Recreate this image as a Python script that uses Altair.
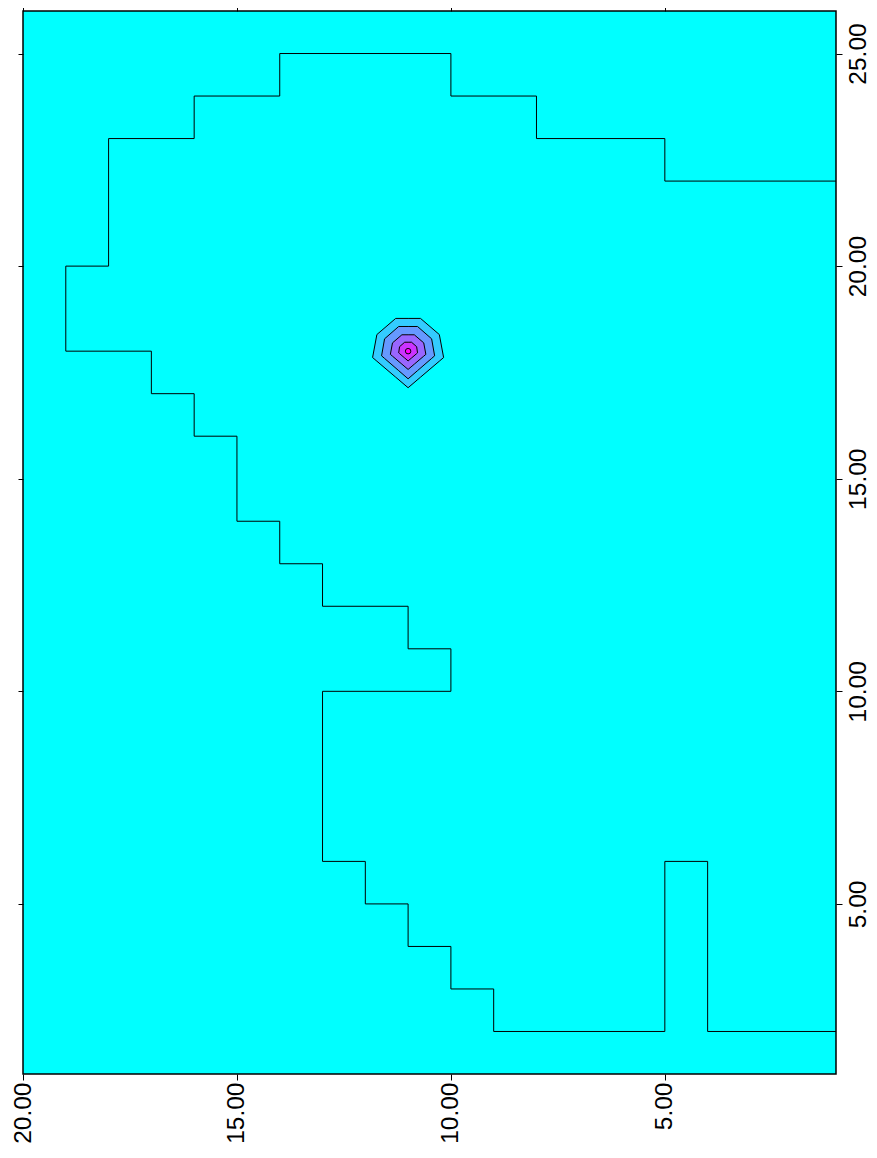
import altair as alt
import pandas as pd

# Stepped contour line (grid units: u = horizontal axis 20..1, v = vertical axis 1..26)
stair_u = [1, 5, 5, 8, 8, 10, 10, 14, 14, 16, 16, 18, 18, 19, 19, 17, 17, 16, 16, 15, 15,
           14, 14, 13, 13, 11, 11, 10, 10, 13, 13, 12, 12, 11, 11, 10, 10, 9, 9, 5, 5, 4, 4, 1]
stair_v = [22, 22, 23, 23, 24, 24, 25, 25, 24, 24, 23, 23, 20, 20, 18, 18, 17, 17, 16, 16, 14,
           14, 13, 13, 12, 12, 11, 11, 10, 10, 6, 6, 5, 5, 4, 4, 3, 3, 2, 2, 6, 6, 2, 2]

# Nested contour polygons around the peak at (11, 18)
poly1_u = [11.29, 10.71, 10.27, 10.17, 11.00, 11.83, 11.73]
poly1_v = [18.77, 18.77, 18.39, 17.85, 17.14, 17.85, 18.39]
poly2_u = [11.22, 10.78, 10.45, 10.38, 11.00, 11.62, 11.55]
poly2_v = [18.58, 18.58, 18.29, 17.89, 17.35, 17.89, 18.29]
poly3_u = [11.145, 10.855, 10.635, 10.585, 11.00, 11.415, 11.365]
poly3_v = [18.385, 18.385, 18.195, 17.925, 17.57, 17.925, 18.195]
poly4_u = [11.08, 10.92, 10.80, 10.78, 11.00, 11.22, 11.20]
poly4_v = [18.21, 18.21, 18.105, 17.96, 17.77, 17.96, 18.105]
poly_colors = ["#33CCFF", "#6699FF", "#9966FF", "#CC33FF"]
peak_u = [11]
peak_v = [18]

x_ticks = [5, 10, 15, 20]
y_ticks = [5, 10, 15, 20, 25]

FONT = "Liberation Sans, Arial, sans-serif"

xs = alt.Scale(domain=[1, 20], reverse=True, nice=False, zero=False)
ys = alt.Scale(domain=[1, 26], nice=False, zero=False)


def envelope(us, vs):
    n = len(us)
    rows = []
    for x in sorted(set(us)):
        yv = []
        for i in range(n):
            x1, y1 = us[i], vs[i]
            x2, y2 = us[(i + 1) % n], vs[(i + 1) % n]
            if min(x1, x2) <= x <= max(x1, x2):
                if x1 == x2:
                    yv += [y1, y2]
                else:
                    yv.append(y1 + (y2 - y1) * (x - x1) / (x2 - x1))
        rows.append({"u": x, "lo": min(yv), "hi": max(yv)})
    return pd.DataFrame(rows)


stair_df = pd.DataFrame({"u": stair_u, "v": stair_v, "i": list(range(len(stair_u)))})

bottom_axis = alt.Axis(orient="bottom", values=x_ticks, format=".2f", labelAngle=270,
                       labelAlign="right", labelBaseline="middle", tickSize=6,
                       labelPadding=2, title="")
right_axis = alt.Axis(orient="right", values=y_ticks, format=".2f", labelAngle=270,
                      labelAlign="center", labelBaseline="top", tickSize=6,
                      labelPadding=4, title="")
top_axis = alt.Axis(orient="top", values=x_ticks, labels=False, tickSize=4, title="")
left_axis = alt.Axis(orient="left", values=y_ticks, labels=False, tickSize=5, title="")

stair = alt.Chart(stair_df).mark_line(color="black", strokeWidth=1).encode(
    x=alt.X("u:Q", scale=xs, axis=bottom_axis),
    y=alt.Y("v:Q", scale=ys, axis=right_axis),
    order=alt.Order("i:Q"),
)

layers = [stair]
polys = [(poly1_u, poly1_v), (poly2_u, poly2_v), (poly3_u, poly3_v), (poly4_u, poly4_v)]
for k, ((pu, pv), col) in enumerate(zip(polys, poly_colors)):
    env = envelope(pu, pv)
    if k == 0:
        xenc = alt.X("u:Q", scale=xs, axis=top_axis)
        yenc = alt.Y("lo:Q", scale=ys, axis=left_axis)
    else:
        xenc = alt.X("u:Q", scale=xs, axis=None)
        yenc = alt.Y("lo:Q", scale=ys, axis=None)
    layers.append(
        alt.Chart(env).mark_area(fill=col, stroke="black", strokeWidth=1,
                                 orient="vertical", opacity=1).encode(
            x=xenc, y=yenc, y2=alt.Y2("hi:Q"))
    )

peak_df = pd.DataFrame({"u": peak_u, "v": peak_v})
layers.append(
    alt.Chart(peak_df).mark_circle(fill="#FF00FF", stroke="black", strokeWidth=1,
                                   size=30, opacity=1).encode(
        x=alt.X("u:Q", scale=xs, axis=None),
        y=alt.Y("v:Q", scale=ys, axis=None))
)

chart = alt.layer(*layers).resolve_axis(x="independent", y="independent").properties(
    width=813, height=1063,
    autosize=alt.AutoSizeParams(type="none"),
    padding={"left": 15, "top": 3, "right": 33, "bottom": 70},
).configure_view(
    fill="#00FFFF", stroke="black", strokeWidth=1.5
).configure_axis(
    grid=False, domain=False, tickColor="black", tickWidth=1,
    labelColor="black", labelFont=FONT, labelFontSize=24.5,
)

chart.save("out.html", embed_options={"renderer": "svg", "actions": False})
